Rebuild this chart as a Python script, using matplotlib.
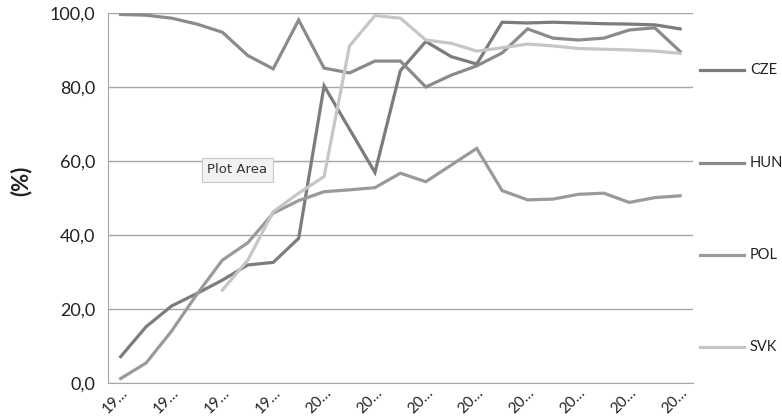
import matplotlib.pyplot as plt

years = list(range(1993, 2016))
tick_labels = [str(y)[:2] + '…' for y in years]

cze = [7.1, 15.2, 20.8, 24.2, 27.8, 31.9, 32.6, 39.1, 80.3, 68.6, 56.9, 84.4, 92.3,
       88.2, 86.2, 97.5, 97.3, 97.5, 97.3, 97.1, 97.0, 96.8, 95.7]
hun = [99.6, 99.4, 98.6, 97.0, 94.8, 88.5, 84.9, 98.1, 85.1, 83.8, 87.0, 87.0, 80.0,
       83.2, 85.7, 89.2, 95.7, 93.2, 92.7, 93.2, 95.4, 96.0, 89.6]
pol = [1.2, 5.4, 14.0, 24.0, 33.2, 37.9, 45.9, 49.3, 51.7, 52.2, 52.8, 56.7, 54.4,
       58.9, 63.4, 52.0, 49.5, 49.7, 51.0, 51.3, 48.8, 50.1, 50.6]
svk = [None, None, None, None, 25.1, 33.2, 46.3, 51.3, 55.8, 91.1, 99.3, 98.6, 92.7,
       91.8, 89.7, 90.6, 91.6, 91.1, 90.4, 90.2, 90.0, 89.7, 89.1]

series = {'CZE': (cze, '#7c7c7e'), 'HUN': (hun, '#8b8b8d'),
          'POL': (pol, '#9a9a9c'), 'SVK': (svk, '#c6c6c8')}

plt.rcParams['font.family'] = ['Lato', 'DejaVu Sans']

fig = plt.figure(figsize=(7.82, 4.16), dpi=100)
ax = fig.add_axes([0.138, 0.0793, 0.748, 0.8895])

x = list(range(len(years)))
for name, (vals, col) in series.items():
    xs = [i for i, v in zip(x, vals) if v is not None]
    ys = [v for v in vals if v is not None]
    ax.plot(xs, ys, color=col, lw=2.3, solid_joinstyle='miter', label=name, zorder=3)

ax.set_xlim(-0.5, len(years) - 0.5)
ax.set_ylim(0, 100)
ax.set_yticks([0, 20, 40, 60, 80, 100])
ax.set_yticklabels(['0,0', '20,0', '40,0', '60,0', '80,0', '100,0'])
ax.set_xticks(x[::2])
ax.set_xticklabels(tick_labels[::2], rotation=45, ha='right', va='top',
                   rotation_mode='anchor')
ax.tick_params(length=0, colors='#222222')
ax.tick_params(axis='y', pad=9, labelsize=13)
ax.tick_params(axis='x', pad=2, labelsize=11)
ax.grid(axis='y', color='#a6a6a6', lw=1, zorder=1)
for s in ['top', 'right']:
    ax.spines[s].set_visible(False)
ax.spines['left'].set_color('#a6a6a6')
ax.spines['bottom'].set_color('#a6a6a6')

fig.text(0.027, 0.565, '(%)', rotation=90, fontsize=16, fontweight='bold',
         ha='center', va='center', color='#222222')

# tooltip left in the screenshot
ax.text(0.221, 0.576, 'Plot Area', transform=ax.transAxes, fontsize=9.5,
        color='#333333', ha='center', va='center',
        bbox=dict(boxstyle='square,pad=0.4', fc='#f2f2f2', ec='#c8c8c8', lw=0.8),
        family=['DejaVu Sans'], zorder=5)

leg_y = [0.832, 0.608, 0.387, 0.166]
for (name, (vals, col)), ly in zip(series.items(), leg_y):
    fig.lines.append(plt.Line2D([0.895, 0.952], [ly, ly], color=col, lw=2.3,
                                transform=fig.transFigure))
    fig.text(0.959, ly, name, fontsize=10.5, va='center', ha='left', color='#222222')

fig.savefig('out.png', dpi=100)
